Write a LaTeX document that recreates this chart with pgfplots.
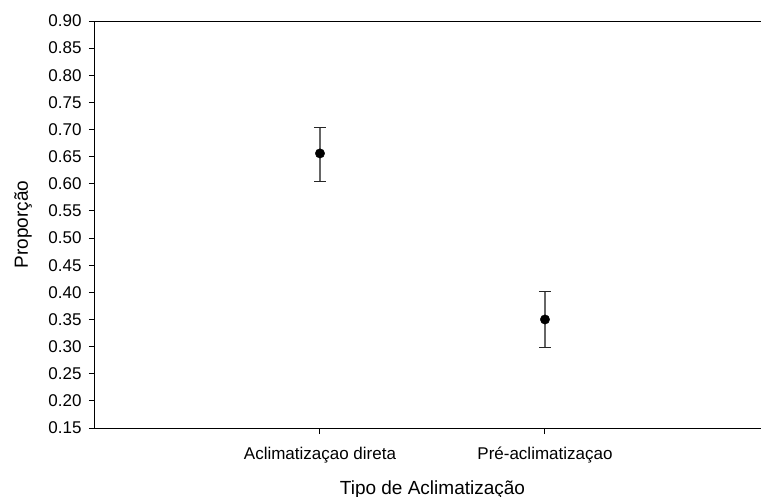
\documentclass[border=0pt]{standalone}
\usepackage{pgfplots}
\pgfplotsset{compat=1.18}
\usepackage{fontspec}
\setmainfont{Liberation Sans}

\begin{document}
\begin{tikzpicture}
\begin{axis}[
    scale only axis,
    width=670bp, height=407bp,
    xmin=0, xmax=2.978,
    ymin=0.15, ymax=0.90,
    axis x line*=bottom,
    axis y line*=left,
    xtick={1,2},
    xticklabels={Aclimatizaçao direta, Pré-aclimatizaçao},
    ytick={0.15,0.20,0.25,0.30,0.35,0.40,0.45,0.50,0.55,0.60,0.65,0.70,0.75,0.80,0.85,0.90},
    yticklabel style={/pgf/number format/fixed, /pgf/number format/zerofill,
        /pgf/number format/precision=2, xshift=-4bp},
    xticklabel style={anchor=base, yshift=-25bp},
    /pgf/number format/assume math mode=true,
    tick align=outside,
    major tick length=6bp,
    tick style={black, line width=1bp},
    axis line style={line width=1bp},
    tick label style={font=\fontsize{17bp}{20bp}\selectfont},
    label style={font=\fontsize{19bp}{22bp}\selectfont},
    xlabel={Tipo de Aclimatização},
    ylabel={Proporção},
    xlabel style={at={(axis description cs:0.5037,-0.1630)}, anchor=base},
    ylabel style={at={(axis description cs:-0.1003,0.5)}, anchor=base, rotate=0},
    clip=false,
]
% top border of the frame
\draw[line width=1bp] (rel axis cs:0,1) -- (rel axis cs:1,1);
\addplot[
    only marks,
    mark=*,
    mark size=4.7bp,
    mark options={fill=black, draw=black},
    error bars/.cd,
        y dir=both, y explicit,
        error bar style={black!60, line width=1.1bp},
        error mark options={rotate=90, mark size=6bp, black!85, line width=1.1bp},
] coordinates {
    (1,0.656) += (0,0.047) -= (0,0.051)
    (2,0.350) += (0,0.052) -= (0,0.051)
};
\end{axis}
\pgfresetboundingbox
\path[use as bounding box, shift={(current axis.south west)}]
    (-95bp,-69bp) rectangle (666bp,428bp);
\end{tikzpicture}
\end{document}
